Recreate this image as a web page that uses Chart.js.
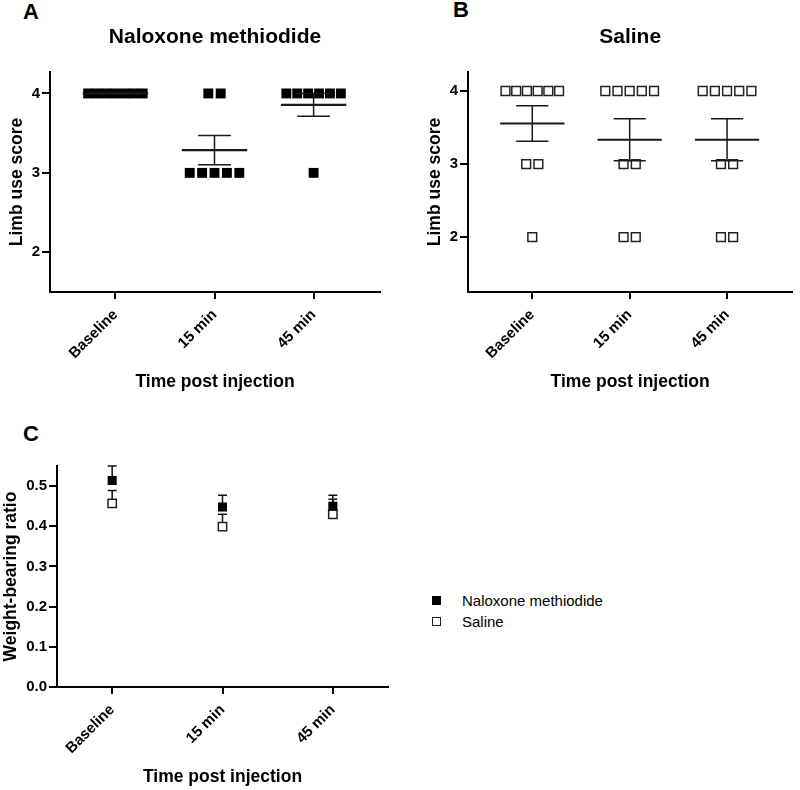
<!DOCTYPE html>
<html>
<head>
<meta charset="utf-8">
<script src="https://cdn.jsdelivr.net/npm/chart.js@4.4.0/dist/chart.umd.min.js"></script>
<style>
html,body{margin:0;padding:0;background:#fff;}
body{width:800px;height:790px;position:relative;overflow:hidden;font-family:'Liberation Sans',Arial,sans-serif;color:#000;}
canvas{position:absolute;}
.letter{position:absolute;font-weight:bold;font-size:22px;line-height:1;}
#legend{position:absolute;left:432px;top:590px;font-size:15px;}
.row{height:21px;display:flex;align-items:center;}
.sw{width:9px;height:9px;box-sizing:border-box;margin-right:21px;}
</style>
</head>
<body>
<div class="letter" style="left:23px;top:1px">A</div>
<div class="letter" style="left:453px;top:-1px">B</div>
<div class="letter" style="left:23px;top:423px">C</div>
<canvas id="chartA" width="400" height="400" style="left:0;top:0"></canvas>
<canvas id="chartB" width="400" height="400" style="left:400px;top:0"></canvas>
<canvas id="chartC" width="400" height="390" style="left:0;top:400px"></canvas>
<div id="legend"></div>
<script>
// data
const categories = ["Baseline", "15 min", "45 min"];

// panel A / B: individual limb use scores per animal
const naloxoneScores = [
  [4, 4, 4, 4, 4, 4, 4],
  [4, 4, 3, 3, 3, 3, 3],
  [4, 4, 4, 4, 4, 4, 3]
];
const salineScores = [
  [4, 4, 4, 4, 4, 4, 3, 3, 2],
  [4, 4, 4, 4, 4, 3, 3, 2, 2],
  [4, 4, 4, 4, 4, 3, 3, 2, 2]
];
const scoreTicks = [2, 3, 4];

// panel C: weight-bearing ratio, mean and SEM
const naloxoneRatioMean = [0.514, 0.448, 0.450];
const naloxoneRatioSem = [0.036, 0.029, 0.027];
const salineRatioMean = [0.457, 0.399, 0.430];
const salineRatioSem = [0.032, 0.031, 0.037];
const ratioTicks = [0, 0.1, 0.2, 0.3, 0.4, 0.5];

Chart.defaults.font.family = "'Liberation Sans', Arial, sans-serif";
Chart.defaults.color = "#000";

function mean(a){
  return a.reduce((s,v)=>s+v,0)/a.length;
}
function sem(a){
  const m = mean(a);
  const v = a.reduce((s,x)=>s+(x-m)*(x-m),0)/(a.length-1);
  return Math.sqrt(v/a.length);
}

// spread equal scores side by side, like a column scatter
function dotPoints(groups){
  const pts = [];
  groups.forEach((vals,i)=>{
    const counts = {};
    vals.forEach(v=>counts[v]=(counts[v]||0)+1);
    Object.keys(counts).forEach(k=>{
      const n = counts[k];
      const step = n>1 ? Math.min(0.125, 0.55/(n-1)) : 0;
      for(let j=0;j<n;j++){
        pts.push({x: i+(j-(n-1)/2)*step, y: Number(k)});
      }
    });
  });
  return pts;
}

const meanSemPlugin = {
  id: "meanSem",
  afterDatasetsDraw(chart, args, opts){
    if(!opts.groups) return;
    const {ctx, scales:{x, y}} = chart;
    ctx.save();
    ctx.strokeStyle = "#1a1a1a";
    opts.groups.forEach((vals,i)=>{
      const m = mean(vals), s = sem(vals);
      const ym = y.getPixelForValue(m);
      ctx.lineWidth = 2.2;
      ctx.beginPath();
      ctx.moveTo(x.getPixelForValue(i-0.33), ym);
      ctx.lineTo(x.getPixelForValue(i+0.33), ym);
      ctx.stroke();
      if(s>0){
        const yt = y.getPixelForValue(m+s), yb = y.getPixelForValue(m-s);
        const xc = x.getPixelForValue(i), xl = x.getPixelForValue(i-0.165), xr = x.getPixelForValue(i+0.165);
        ctx.lineWidth = 1.5;
        ctx.beginPath();
        ctx.moveTo(xc, yt); ctx.lineTo(xc, yb);
        ctx.moveTo(xl, yt); ctx.lineTo(xr, yt);
        ctx.moveTo(xl, yb); ctx.lineTo(xr, yb);
        ctx.stroke();
      }
    });
    ctx.restore();
  }
};

const upperSemPlugin = {
  id: "upperSem",
  beforeDatasetsDraw(chart, args, opts){
    if(!opts.sem) return;
    const {ctx, scales:{x, y}} = chart;
    ctx.save();
    ctx.strokeStyle = "#111";
    ctx.lineWidth = 1.5;
    chart.data.datasets.forEach((ds,d)=>{
      ds.data.forEach((p,i)=>{
        const px = x.getPixelForValue(p.x);
        const py = y.getPixelForValue(p.y);
        const pt = y.getPixelForValue(p.y + opts.sem[d][i]);
        ctx.beginPath();
        ctx.moveTo(px, py); ctx.lineTo(px, pt);
        ctx.moveTo(px-4.5, pt); ctx.lineTo(px+4.5, pt);
        ctx.stroke();
      });
    });
    ctx.restore();
  }
};

Chart.register(meanSemPlugin, upperSemPlugin);

function xScale(min, max, height, titleBottom){
  return {
    type: "linear", min: min, max: max,
    afterBuildTicks: s=>{ s.ticks = categories.map((c,i)=>({value:i})); },
    afterFit: s=>{ s.height = height; },
    border: {display:true, color:"#000", width:2},
    grid: {display:true, drawOnChartArea:false, drawTicks:true, tickLength:7, color:"#000", lineWidth:2},
    ticks: {callback: v=>categories[v], minRotation:45, maxRotation:45, autoSkip:false, padding:7,
      color:"#000", font:{size:15, weight:"bold"}},
    title: {display:true, text:"Time post injection", color:"#000",
      font:{size:17.5, weight:"bold"}, padding:{top:0, bottom:titleBottom}}
  };
}

function yScale(min, max, tickVals, width, label, titleLeft, fmt){
  return {
    type: "linear", min: min, max: max,
    afterBuildTicks: s=>{ s.ticks = tickVals.map(v=>({value:v})); },
    afterFit: s=>{ s.width = width; },
    border: {display:true, color:"#000", width:2},
    grid: {display:true, drawOnChartArea:false, drawTicks:true, tickLength:8, color:"#000", lineWidth:2},
    ticks: {callback: fmt, padding:2, color:"#000", font:{size:15, weight:"bold"}},
    title: {display:true, text:label, color:"#000",
      font:{size:17.5, weight:"bold"}, padding:{top:titleLeft, bottom:0}}
  };
}

function panelTitle(text){
  return {display:true, text:text, color:"#000", fullSize:false,
    font:{size:21, weight:"bold"}, padding:{top:24.4, bottom:22.4}};
}

new Chart(document.getElementById("chartA"), {
  type: "scatter",
  data: {
    datasets: [{
      label: "Naloxone methiodide",
      data: dotPoints(naloxoneScores),
      pointStyle: "rect", pointRadius: 7,
      backgroundColor: "#000", borderColor: "#000", borderWidth: 0
    }]
  },
  options: {
    responsive: false, animation: false, events: [],
    layout: {padding:{left:0, right:20, top:0, bottom:0}},
    plugins: {
      legend: {display:false}, tooltip: {enabled:false},
      title: panelTitle("Naloxone methiodide"),
      meanSem: {groups: naloxoneScores}
    },
    scales: {
      x: xScale(-0.66, 2.67, 108, 7.5),
      y: yScale(1.5, 4.27, scoreTicks, 50, "Limb use score", 6.5, v=>String(v))
    }
  }
});

new Chart(document.getElementById("chartB"), {
  type: "scatter",
  data: {
    datasets: [{
      label: "Saline",
      data: dotPoints(salineScores),
      pointStyle: "rect", pointRadius: 6.2,
      backgroundColor: "#fff", borderColor: "#222", borderWidth: 1.5
    }]
  },
  options: {
    responsive: false, animation: false, events: [],
    layout: {padding:{left:0, right:2, top:0, bottom:0}},
    plugins: {
      legend: {display:false}, tooltip: {enabled:false},
      title: panelTitle("Saline"),
      meanSem: {groups: salineScores}
    },
    scales: {
      x: xScale(-0.66, 2.67, 108, 7.5),
      y: yScale(1.25, 4.26, scoreTicks, 68, "Limb use score", 24.5, v=>String(v))
    }
  }
});

const chartC = new Chart(document.getElementById("chartC"), {
  type: "scatter",
  data: {
    datasets: [{
      label: "Naloxone methiodide",
      data: categories.map((c,i)=>({x:i, y:naloxoneRatioMean[i]})),
      pointStyle: "rect", pointRadius: 6.4,
      backgroundColor: "#000", borderColor: "#000", borderWidth: 0
    }, {
      label: "Saline",
      data: categories.map((c,i)=>({x:i, y:salineRatioMean[i]})),
      pointStyle: "rect", pointRadius: 5.9,
      backgroundColor: "#fff", borderColor: "#222", borderWidth: 1.5
    }]
  },
  options: {
    responsive: false, animation: false, events: [],
    layout: {padding:{left:0, right:12, top:66, bottom:0}},
    plugins: {
      legend: {display:false}, tooltip: {enabled:false},
      upperSem: {sem: [naloxoneRatioSem, salineRatioSem]}
    },
    scales: {
      x: xScale(-0.5, 2.5, 103, 2.5),
      y: yScale(0, 0.55, ratioTicks, 57, "Weight-bearing ratio", 0.5, v=>v.toFixed(1))
    }
  }
});

// legend built from chart C datasets
const legend = document.getElementById("legend");
chartC.data.datasets.forEach(ds=>{
  const row = document.createElement("div");
  row.className = "row";
  const sw = document.createElement("span");
  sw.className = "sw";
  sw.style.background = ds.backgroundColor;
  sw.style.border = ds.borderWidth ? ds.borderWidth+"px solid "+ds.borderColor : "none";
  row.appendChild(sw);
  row.appendChild(document.createTextNode(ds.label));
  legend.appendChild(row);
});
</script>
</body>
</html>
